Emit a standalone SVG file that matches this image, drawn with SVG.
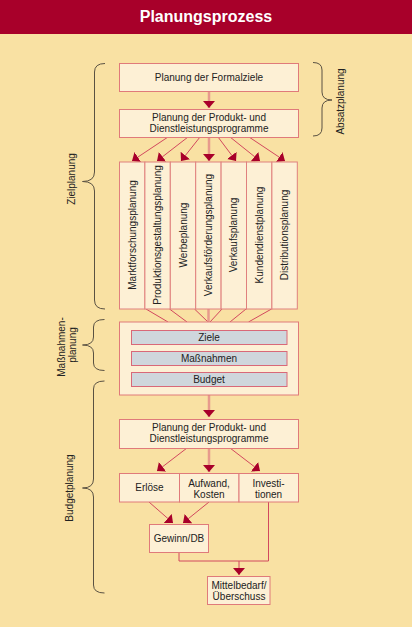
<svg xmlns="http://www.w3.org/2000/svg" width="412" height="627" viewBox="0 0 412 627">
<defs>
<marker id="ah" markerUnits="userSpaceOnUse" markerWidth="8" markerHeight="12" refX="7" refY="6" orient="auto" viewBox="0 0 8 12">
<path d="M0,0 L7,6 L0,12 z" fill="#A8002A"/>
</marker>
<style>
.bg{fill:#F9E1A3}
.box{fill:#FDF0D5;stroke:#E07A7A;stroke-width:1}
.col{fill:#FDF0D5;stroke:#E0807E;stroke-width:1}
.gray{fill:#CFD6DC;stroke:#D96878;stroke-width:1}
.t{font-family:"Liberation Sans",Arial,sans-serif;font-size:10px;fill:#222;text-anchor:middle}
.ln{stroke:#D2485E;stroke-width:1;fill:none}
.vl{stroke:#E79A8C;stroke-width:2.5;fill:none}
.br{stroke:#5A5142;stroke-width:1;fill:none}
</style>
</defs>
<rect class="bg" x="0" y="0" width="412" height="627"/>
<rect x="0" y="0" width="412" height="34" fill="#A8002A"/>
<text x="206" y="21.5" font-family="Liberation Sans,Arial,sans-serif" font-size="16" font-weight="bold" fill="#fff" text-anchor="middle">Planungsprozess</text>

<g id="connectors">
<line class="vl" x1="209" y1="91" x2="209" y2="108" marker-end="url(#ah)"/>
<line class="ln" x1="168" y1="137" x2="132" y2="161" marker-end="url(#ah)"/>
<line class="ln" x1="188" y1="137" x2="157" y2="161" marker-end="url(#ah)"/>
<line class="ln" x1="200" y1="137" x2="181" y2="161" marker-end="url(#ah)"/>
<line class="vl" x1="209" y1="137" x2="209" y2="161" marker-end="url(#ah)"/>
<line class="ln" x1="218" y1="137" x2="236" y2="161" marker-end="url(#ah)"/>
<line class="ln" x1="230" y1="137" x2="260" y2="161" marker-end="url(#ah)"/>
<line class="ln" x1="249" y1="137" x2="285" y2="161" marker-end="url(#ah)"/>
<line class="ln" x1="146" y1="309" x2="168" y2="322"/>
<line class="ln" x1="169.5" y1="309" x2="187" y2="322"/>
<line class="ln" x1="194.5" y1="309" x2="208" y2="322"/>
<line class="vl" x1="208.5" y1="309" x2="208.5" y2="322"/>
<line class="ln" x1="222" y1="309" x2="210" y2="322"/>
<line class="ln" x1="246" y1="309" x2="230" y2="322"/>
<line class="ln" x1="271.5" y1="309" x2="248.5" y2="322"/>
<line class="vl" x1="209" y1="395" x2="209" y2="417" marker-end="url(#ah)"/>
<line class="vl" x1="209" y1="448" x2="209" y2="472" marker-end="url(#ah)"/>
<line class="ln" x1="187" y1="448" x2="157" y2="471" marker-end="url(#ah)"/>
<line class="ln" x1="230" y1="448" x2="260" y2="471" marker-end="url(#ah)"/>
<line class="ln" x1="149" y1="502" x2="173" y2="523" marker-end="url(#ah)"/>
<line class="ln" x1="209" y1="502" x2="183" y2="523" marker-end="url(#ah)"/>
<polyline class="ln" points="268.5,502 268.5,561 179,561 179,552"/>
<line class="ln" x1="239" y1="561" x2="239" y2="575" marker-end="url(#ah)"/>
</g>

<g id="n-formalziele">
<rect class="box" x="119.5" y="63.5" width="179" height="28"/>
<text class="t" x="209" y="80.5">Planung der Formalziele</text>
</g>
<g id="n-programme1">
<rect class="box" x="119.5" y="109.5" width="179" height="28"/>
<text class="t" x="209" y="120.5">Planung der Produkt- und</text>
<text class="t" x="209" y="131.5">Dienstleistungsprogramme</text>
</g>

<g id="n-columns">
<rect class="col" x="119.5" y="162" width="25.4" height="147"/>
<rect class="col" x="144.9" y="162" width="25.4" height="147"/>
<rect class="col" x="170.3" y="162" width="25.4" height="147"/>
<rect class="col" x="195.7" y="162" width="25.4" height="147"/>
<rect class="col" x="221.1" y="162" width="25.4" height="147"/>
<rect class="col" x="246.5" y="162" width="25.4" height="147"/>
<rect class="col" x="271.9" y="162" width="25.4" height="147"/>
<text class="t" transform="translate(135.7,235) rotate(-90)">Marktforschungsplanung</text>
<text class="t" transform="translate(161.1,235) rotate(-90)">Produktionsgestaltungsplanung</text>
<text class="t" transform="translate(186.5,235) rotate(-90)">Werbeplanung</text>
<text class="t" transform="translate(211.9,235) rotate(-90)">Verkaufsförderungsplanung</text>
<text class="t" transform="translate(237.3,235) rotate(-90)">Verkaufsplanung</text>
<text class="t" transform="translate(262.7,235) rotate(-90)">Kundendienstplanung</text>
<text class="t" transform="translate(288.1,235) rotate(-90)">Distributionsplanung</text>
</g>

<g id="n-massnahmen">
<rect class="box" x="119.5" y="322" width="179" height="73"/>
<rect class="gray" x="131.5" y="330.5" width="155.5" height="14"/>
<text class="t" x="209" y="341">Ziele</text>
<rect class="gray" x="131.5" y="351.5" width="155.5" height="14"/>
<text class="t" x="209" y="362">Maßnahmen</text>
<rect class="gray" x="131.5" y="372.5" width="155.5" height="14"/>
<text class="t" x="209" y="383">Budget</text>
</g>

<g id="n-programme2">
<rect class="box" x="119.5" y="419.5" width="179" height="29"/>
<text class="t" x="209" y="431">Planung der Produkt- und</text>
<text class="t" x="209" y="442">Dienstleistungsprogramme</text>
</g>

<g id="n-erloese">
<rect class="box" x="119.5" y="473.5" width="60" height="28.5"/>
<text class="t" x="149.5" y="491">Erlöse</text>
</g>
<g id="n-aufwand">
<rect class="box" x="179.5" y="473.5" width="59.5" height="28.5"/>
<text class="t" x="209" y="486.5">Aufwand,</text>
<text class="t" x="209" y="497.5">Kosten</text>
</g>
<g id="n-invest">
<rect class="box" x="239" y="473.5" width="59.5" height="28.5"/>
<text class="t" x="268.5" y="486.5">Investi-</text>
<text class="t" x="268.5" y="497.5">tionen</text>
</g>
<g id="n-gewinn">
<rect class="box" x="149.5" y="524.5" width="59" height="28"/>
<text class="t" x="179" y="541.5">Gewinn/DB</text>
</g>
<g id="n-mittel">
<rect class="box" x="207.5" y="576.5" width="62.5" height="28"/>
<text class="t" x="239" y="588.5">Mittelbedarf/</text>
<text class="t" x="239" y="599.5">Überschuss</text>
</g>

<g id="braces">
<path class="br" d="M105,63.5 Q94.5,63.5 94.5,72 L94.5,172 Q94.5,181.5 82.5,181.5 Q94.5,181.5 94.5,191 L94.5,300 Q94.5,309 105,309"/>
<text class="t" transform="translate(74.5,179) rotate(-90)">Zielplanung</text>
<path class="br" d="M104.5,319.5 Q93.5,319.5 93.5,327 L93.5,337 Q93.5,345 82.5,345 Q93.5,345 93.5,353 L93.5,363 Q93.5,370.5 104.5,370.5"/>
<text class="t" transform="translate(64.5,347) rotate(-90)">Maßnahmen-</text>
<text class="t" transform="translate(76,345) rotate(-90)">planung</text>
<path class="br" d="M104.5,381 Q93.5,381 93.5,389 L93.5,479 Q93.5,488 82.5,488 Q93.5,488 93.5,497 L93.5,585 Q93.5,593 104.5,593"/>
<text class="t" transform="translate(72.5,488) rotate(-90)">Budgetplanung</text>
<path class="br" d="M313,62.5 Q322,62.5 322,70 L322,92 Q322,100 332,100 Q322,100 322,108 L322,128 Q322,136 313,136"/>
<text class="t" transform="translate(343.5,101.5) rotate(-90)">Absatzplanung</text>
</g>
</svg>
